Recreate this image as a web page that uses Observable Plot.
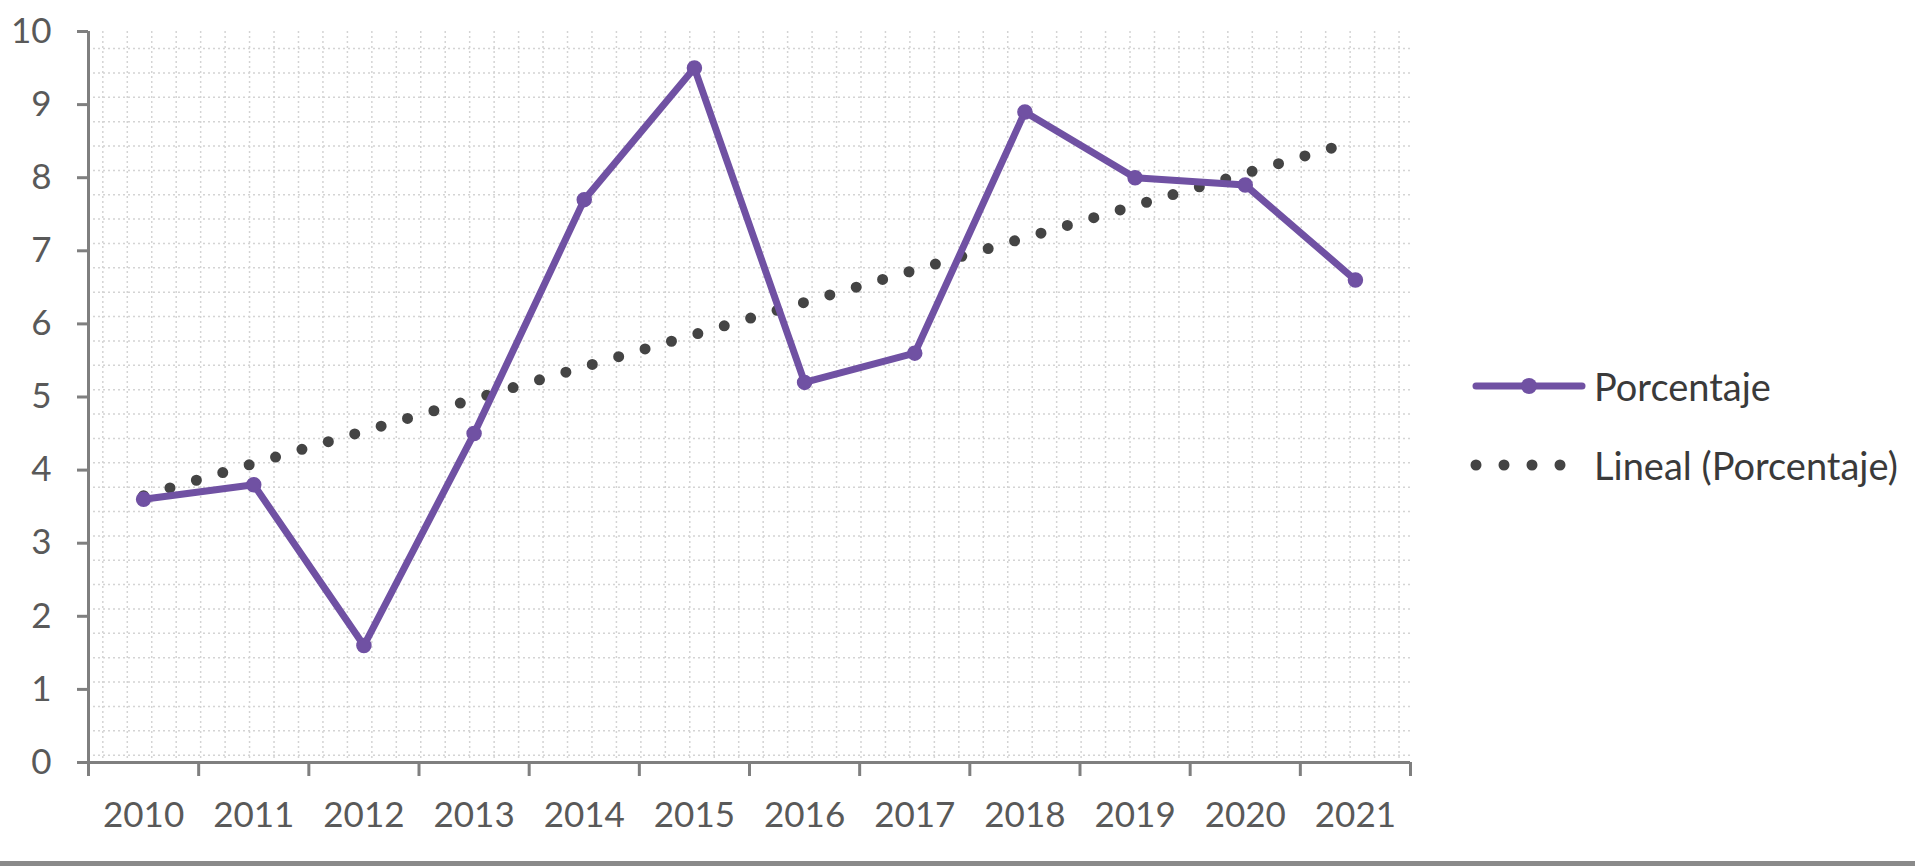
<!DOCTYPE html>
<html>
<head>
<meta charset="utf-8">
<script src="https://cdn.jsdelivr.net/npm/d3@7"></script>
<script src="https://cdn.jsdelivr.net/npm/@observablehq/plot@0.6"></script>
<style>
  html, body { margin: 0; padding: 0; background: #fff; }
  #wrap { position: relative; width: 1915px; height: 866px; overflow: hidden; font-family: Lato, "Open Sans", sans-serif; }
  #bottomBar { position: absolute; left: 0; top: 861px; width: 1915px; height: 5px; background: #8a8a8a; }
  .leg { position: absolute; display: flex; align-items: center; font-size: 38px; color: #3a3a3a; white-space: nowrap; }
  .leg svg { display: block; margin-right: 8px; }
</style>
</head>
<body>
<div id="wrap">
  <div id="chart"></div>
  <div class="leg" id="leg1" style="left:1472px; top:362px;"></div>
  <div class="leg" id="leg2" style="left:1466px; top:441px;"></div>
  <div id="bottomBar"></div>
</div>
<script>
const years = [2010, 2011, 2012, 2013, 2014, 2015, 2016, 2017, 2018, 2019, 2020, 2021];
const porcentaje = [3.6, 3.8, 1.6, 4.5, 7.7, 9.5, 5.2, 5.6, 8.9, 8.0, 7.9, 6.6];
const yTicks = [0, 1, 2, 3, 4, 5, 6, 7, 8, 9, 10];
const seriesName = "Porcentaje";
const trendName = "Lineal (Porcentaje)";

const purple = "#7051a3";
const trendColor = "#444444";
const axisColor = "#7f7f7f";

const data = years.map((year, i) => ({year, value: porcentaje[i]}));
const xMin = d3.min(years) - 0.5, xMax = d3.max(years) + 0.5;
const boundaries = d3.range(xMin, xMax + 0.001, 1);
const gridX = d3.range(xMin + 0.13, xMax, 0.222);
const gridY = d3.range(0.1, 10, 1 / 3);

const chart = Plot.plot({
  width: 1915,
  height: 860,
  marginTop: 31,
  marginBottom: 98,
  marginLeft: 88,
  marginRight: 505,
  style: {fontFamily: "Lato, 'Open Sans', sans-serif", background: "#fff"},
  x: {type: "linear", domain: [xMin, xMax], label: null},
  y: {domain: [0, 10], label: null},
  marks: [
    Plot.ruleY(gridY, {stroke: "#d4d4d4", strokeWidth: 1.5, strokeDasharray: "2,3"}),
    Plot.ruleX(gridX, {stroke: "#d4d4d4", strokeWidth: 1.5, strokeDasharray: "2,3"}),
    Plot.axisX({ticks: boundaries, tickFormat: () => "", tickSize: 14, stroke: axisColor, strokeWidth: 3, label: null}),
    Plot.axisX({ticks: years, tickFormat: d => String(d), tickSize: 0, tickPadding: 40, fontSize: 35, fill: "#595959", label: null}),
    Plot.axisY({ticks: yTicks, tickSize: 11, tickPadding: 26, fontSize: 35, fill: "#595959", stroke: axisColor, strokeWidth: 3, label: null}),
    Plot.ruleY([0], {stroke: axisColor, strokeWidth: 3}),
    Plot.ruleX([xMin], {stroke: axisColor, strokeWidth: 3}),
    Plot.linearRegressionY(data, {x: "year", y: "value", ci: 0, stroke: trendColor, strokeWidth: 11, strokeDasharray: "0,27.5", strokeLinecap: "round"}),
    Plot.line(data, {x: "year", y: "value", stroke: purple, strokeWidth: 7, strokeLinejoin: "round"}),
    Plot.dot(data, {x: "year", y: "value", r: 7, fill: purple, stroke: purple})
  ]
});
document.getElementById("chart").appendChild(chart);

// Legend
const leg1 = document.getElementById("leg1");
leg1.innerHTML = `<svg width="114" height="48"><line x1="4" y1="24" x2="110" y2="24" stroke="${purple}" stroke-width="7" stroke-linecap="round"/><circle cx="57" cy="24" r="8" fill="${purple}"/></svg><span>${seriesName}</span>`;
const leg2 = document.getElementById("leg2");
leg2.innerHTML = `<svg width="120" height="48"><line x1="10" y1="24" x2="100" y2="24" stroke="${trendColor}" stroke-width="11" stroke-dasharray="0,28" stroke-linecap="round"/></svg><span>${trendName}</span>`;
</script>
</body>
</html>
